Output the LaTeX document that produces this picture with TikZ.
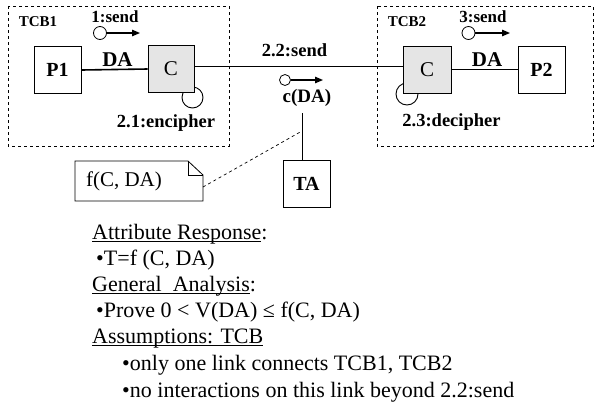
\documentclass[tikz,border=0pt]{standalone}
\usepackage{fontspec}
\setmainfont{Liberation Serif}
\usetikzlibrary{arrows.meta}
\newcommand{\myfs}[1]{\fontsize{#1}{#1}\selectfont}
\newsavebox{\ulbox}
\newcommand{\myul}[1]{\sbox{\ulbox}{#1}\rlap{\rule[-3pt]{\wd\ulbox}{1.1pt}}\usebox{\ulbox}}
\begin{document}
\begin{tikzpicture}[x=1pt,y=-1pt,
  box/.style={draw, line width=0.9pt, minimum width=47pt, minimum height=47pt, inner sep=0pt, font=\myfs{20}\bfseries, fill=white},
  cbox/.style={box, minimum width=46pt, fill=black!10, font=\myfs{21}},
  lbl/.style={inner sep=0pt, font=\bfseries\myfs{18.5}},
  small/.style={inner sep=0pt, font=\bfseries\myfs{15}},
  region/.style={draw, dashed, line width=0.7pt},
  msg/.style={-{Triangle[length=8pt,width=6.5pt]}, line width=1.3pt},
  mcirc/.style={circle, draw, line width=0.8pt, inner sep=0pt, minimum size=13pt},
  txt/.style={anchor=base west, inner sep=0pt, font=\myfs{22}},
  selfloop/.style={line width=0.9pt}
]
\useasboundingbox (0,0) rectangle (595,408);

% regions
\draw[region] (8,6) rectangle (229,146);
\draw[region] (377,6) rectangle (593,146);
\node[small] (tcb1) at (38,22) {TCB1};
\node[small] (tcb2) at (407,22) {TCB2};

% self loops behind C boxes
\draw[selfloop] (192.5,97.5) circle[radius=10.5];
\draw[selfloop] (407,94) circle[radius=11];

% boxes
\node[box] (p1) at (57.5,69.5) {P1};
\node[cbox] (c1) at (171,68.5) {C};
\node[cbox, minimum width=48pt] (c2) at (427,69.5) {C};
\node[box] (p2) at (541.5,69.5) {P2};
\node[box] (ta) at (306.5,183.5) {TA};

% connectors
\draw[line width=1.6pt] ([yshift=-0.5pt]p1.east) -- ([yshift=0.5pt]c1.west |- p1.east);
\draw[line width=1.6pt] (c2.east) -- (p2.west);
\draw[line width=0.8pt] ([yshift=2.5pt]c1.east) -- ([yshift=3.5pt]c2.west);
\node[lbl, font=\bfseries\myfs{21}] (da1) at (117.5,60) {DA};
\node[lbl, font=\bfseries\myfs{21}] (da2) at (487,60) {DA};

% messages
\node[mcirc] (m1) at (100,33) {};
\coordinate (m1e) at (140,33);
\draw[msg] (m1.east) -- (m1e);
\node[lbl, font=\bfseries\myfs{17}] (l1) at (115,17) {1:send};

\node[mcirc, minimum size=11pt] (m2) at (285,80) {};
\coordinate (m2e) at (323,80);
\draw[msg] (m2.east) -- (m2e);
\node[lbl] (l22) at (294.5,50) {2.2:send};
\node[lbl, font=\bfseries\myfs{19}] (cda) at (307,98) {c(DA)};

\node[mcirc] (m3) at (468.5,33) {};
\coordinate (m3e) at (510,33);
\draw[msg] (m3.east) -- (m3e);
\node[lbl, font=\bfseries\myfs{17}] (l3) at (483,17) {3:send};

\node[lbl] (l21) at (166,123.5) {2.1:encipher};
\node[lbl] (l23) at (451.5,122) {2.3:decipher};

% TA attachment
\coordinate (att) at (302,113);
\coordinate (dj) at (302,131);
\draw[line width=0.9pt] (att) -- (att |- ta.north);

% note
\draw[line width=0.8pt, fill=white] (75,161) -- (188,161) -- (203,175) -- (203,201) -- (75,201) -- cycle;
\draw[line width=0.6pt] (188,161) -- (188,175) -- (203,175);
\node[inner sep=0pt, font=\myfs{21}] (note) at (124,181) {f(C, DA)};
\coordinate (noteR) at (203,187);
\draw[dashed, line width=0.7pt] (noteR) -- (dj);

% text block
\node[txt] (t1) at (92,239) {\myul{Attribute Response}:};
\node[txt] (t2) at (96,265) {•T=f (C, DA)};
\node[txt] (t3) at (92,291) {\myul{General\ \ Analysis}:};
\node[txt] (t4) at (96,317) {•Prove 0 < V(DA) ≤ f(C, DA)};
\node[txt] (t5) at (92,343) {\myul{Assumptions: TCB}};
\node[txt] (t6) at (122,370) {•only one link connects TCB1, TCB2};
\node[txt] (t7) at (122,397) {•no interactions on this link beyond 2.2:send};
\end{tikzpicture}
\end{document}
